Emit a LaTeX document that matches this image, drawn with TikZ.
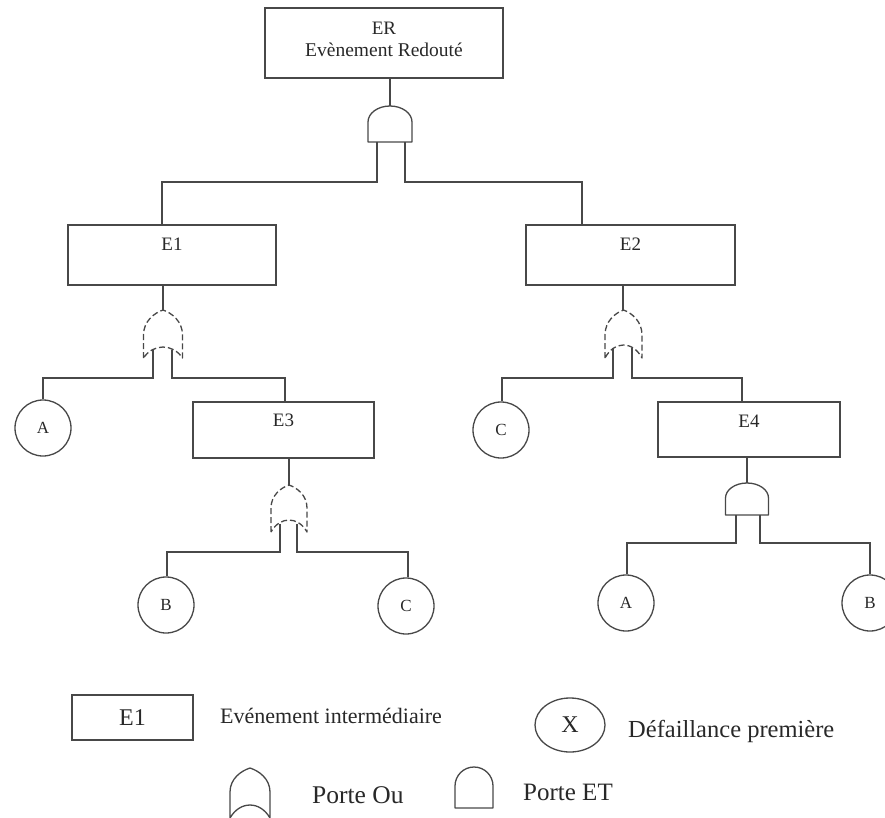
\documentclass[tikz,border=0pt]{standalone}
\usepackage{fontspec}
\setmainfont{Liberation Serif}
\usetikzlibrary{shapes.geometric}
\definecolor{linegray}{RGB}{72,72,72}
\definecolor{textgray}{RGB}{40,40,40}

% AND gate: centre x, top y, shoulder y, bottom y, half width
\newcommand\FTand[5]{%
  \draw[gate] ({#1-#5},#4) -- ({#1-#5},#3)
    .. controls ({#1-#5},{#3-0.5523*(#3-#2)}) and ({#1-0.5523*#5},#2) .. (#1,#2)
    .. controls ({#1+0.5523*#5},#2) and ({#1+#5},{#3-0.5523*(#3-#2)}) .. ({#1+#5},#3)
    -- ({#1+#5},#4) -- cycle;}
% OR gate: centre x, top y, end of curved sides y, bottom y, concave apex y, half width
\newcommand\FTor[7][gate]{%
  \draw[#1] ({#2-#7},#5) -- ({#2-#7},#4)
    .. controls ({#2-#7},{#3+0.45*(#4-#3)}) and ({#2-0.45*#7},{#3+0.12*(#4-#3)}) .. (#2,#3)
    .. controls ({#2+0.45*#7},{#3+0.12*(#4-#3)}) and ({#2+#7},{#3+0.45*(#4-#3)}) .. ({#2+#7},#4)
    -- ({#2+#7},#5)
    .. controls ({#2+0.5*#7},{(#6-0.25*#5)/0.75}) and ({#2-0.5*#7},{(#6-0.25*#5)/0.75}) .. ({#2-#7},#5);}

\begin{document}
\begin{tikzpicture}[x=1pt,y=-1pt,
  wire/.style={draw=linegray, line width=1.3pt},
  gate/.style={draw=linegray, line width=1.3pt, line join=round},
  brokengate/.style={gate, dash pattern=on 6pt off 3pt},
  evbox/.style={rectangle, draw=linegray, line width=1.6pt, inner sep=0pt},
  basic/.style={circle, draw=linegray, line width=1.3pt, inner sep=0pt, minimum size=56pt,
    text=textgray, font=\fontsize{17}{20}\selectfont},
  evlabel/.style={anchor=base, text=textgray, font=\fontsize{19}{22}\selectfont, inner sep=0pt},
  legtext/.style={anchor=base west, text=textgray, inner sep=0pt}]

\useasboundingbox (0,0) rectangle (885,818);

% ---------- events ----------
\node[evbox, minimum width=238pt, minimum height=70pt,
  label={[evlabel, yshift=-27pt]north:ER},
  label={[evlabel, yshift=-49pt, font=\fontsize{19.5}{22}\selectfont]north:Evènement Redouté}] (er) at (384,43) {};
\node[evbox, minimum width=208pt, minimum height=60pt,
  label={[evlabel, yshift=-26pt]north:E1}] (e1) at (172,255) {};
\node[evbox, minimum width=209pt, minimum height=60pt,
  label={[evlabel, yshift=-26pt]north:E2}] (e2) at (630.5,255) {};
\node[evbox, line width=2.4pt, minimum width=181pt, minimum height=56pt,
  label={[evlabel, yshift=-26pt]north:E3}] (e3) at (283.5,430) {};
\node[evbox, minimum width=182pt, minimum height=55pt,
  label={[evlabel, yshift=-26pt]north:E4}] (e4) at (749,429.5) {};

\node[basic] (a1) at (43,428) {A};
\node[basic] (c1) at (501,430) {C};
\node[basic] (b1) at (166,605) {B};
\node[basic] (c2) at (406,606) {C};
\node[basic] (a2) at (626,603) {A};
\node[basic] (b2) at (870,603) {B};

% ---------- gates ----------
\FTand{390}{106}{122}{142}{22}
\FTor[brokengate]{163}{310}{335}{358}{347}{19.5}
\FTor[brokengate]{623.5}{310}{335}{358}{345}{18.5}
\FTor[brokengate]{289}{485}{508}{532}{520}{18}
\FTand{747}{483}{498}{515}{21.5}

% gate outputs and inputs
\coordinate (g0) at (390,106); \coordinate (g0l) at (377,142); \coordinate (g0r) at (405,142);
\coordinate (g1) at (163,310); \coordinate (g1l) at (153,350); \coordinate (g1r) at (172,350);
\coordinate (g2) at (623,310); \coordinate (g2l) at (613,348); \coordinate (g2r) at (632,348);
\coordinate (g3) at (289,485); \coordinate (g3l) at (280,524); \coordinate (g3r) at (297,524);
\coordinate (g4) at (747,483); \coordinate (g4l) at (736,515); \coordinate (g4r) at (760,515);

% branch corners
\coordinate (j0l) at (162,182); \coordinate (j0r) at (582,182);
\coordinate (j1l) at (43,378);  \coordinate (j1r) at (285,378);
\coordinate (j2l) at (502,378); \coordinate (j2r) at (742,378);
\coordinate (j3l) at (167,552); \coordinate (j3r) at (408,552);
\coordinate (j4l) at (627,543); \coordinate (j4r) at (870,543);

% ---------- connectors ----------
\draw[wire] (er.south -| g0) -- (g0);
\draw[wire] (g0l) |- (j0l) -- (j0l |- e1.north);
\draw[wire] (g0r) |- (j0r) -- (j0r |- e2.north);

\draw[wire] (g1 |- e1.south) -- (g1);
\draw[wire] (g1l) |- (j1l) -- (j1l |- a1.north);
\draw[wire] (g1r) |- (j1r) -- (j1r |- e3.north);

\draw[wire] (g2 |- e2.south) -- (g2);
\draw[wire] (g2l) |- (j2l) -- (j2l |- c1.north);
\draw[wire] (g2r) |- (j2r) -- (j2r |- e4.north);

\draw[wire] (g3 |- e3.south) -- (g3);
\draw[wire] (g3l) |- (j3l) -- (j3l |- b1.north);
\draw[wire] (g3r) |- (j3r) -- (j3r |- c2.north);

\draw[wire] (g4 |- e4.south) -- (g4);
\draw[wire] (g4l) |- (j4l) -- (j4l |- a2.north);
\draw[wire] (g4r) |- (j4r) -- (j4r |- b2.north);

% ---------- legend ----------
\node[evbox, line width=1.4pt, minimum width=121pt, minimum height=45pt,
  text=textgray, font=\fontsize{24}{27}\selectfont] (legev) at (132.5,717.5) {E1};
\node[legtext, font=\fontsize{22}{26}\selectfont] (legevtext) at (220,723) {Evénement intermédiaire};
\node[ellipse, draw=linegray, line width=1.3pt, inner sep=0pt, minimum width=70pt,
  minimum height=54pt, text=textgray, font=\fontsize{24}{27}\selectfont] (legbasic) at (570,725) {X};
\node[legtext, font=\fontsize{24.5}{28}\selectfont] (legbasictext) at (628,737) {Défaillance première};
\FTor{250}{768}{792}{818}{805}{20}
\node[legtext, font=\fontsize{25.5}{29}\selectfont] (legortext) at (312,803) {Porte Ou};
\FTand{474}{767}{786}{808}{19}
\node[legtext, font=\fontsize{25}{29}\selectfont] (legandtext) at (523,800) {Porte ET};
\end{tikzpicture}
\end{document}
